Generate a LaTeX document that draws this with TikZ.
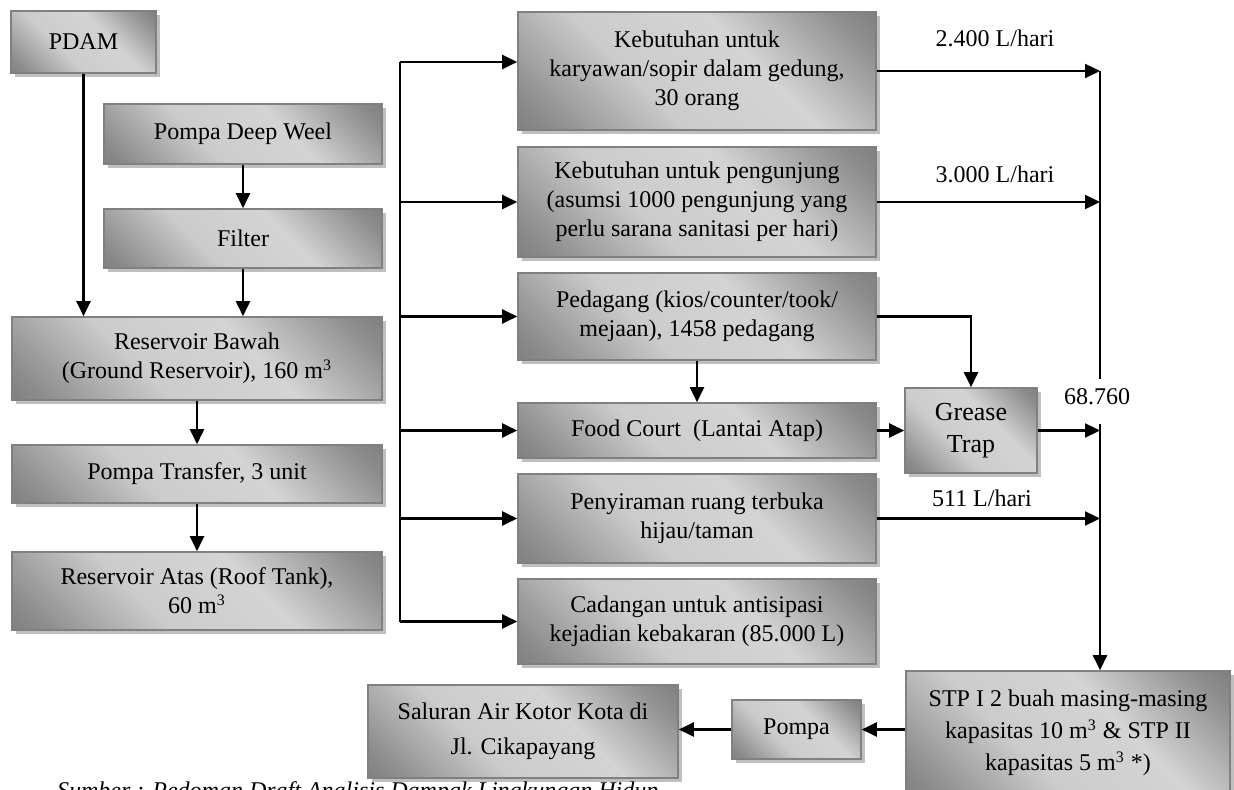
\documentclass[tikz,border=0pt]{standalone}
\usepackage{fontspec}
\setmainfont{Liberation Serif}
\usetikzlibrary{arrows.meta,shadows}
\pgfdeclareverticalshading{boxshade}{100bp}{color(0bp)=(black!62); color(20bp)=(black!45); color(40bp)=(black!20); color(60bp)=(black!17); color(80bp)=(black!45); color(100bp)=(black!62)}

\begin{document}
\begin{tikzpicture}[x=0.5pt,y=-0.5pt,
	font=\fontsize{12}{14.5}\selectfont,
	box/.style={draw=black!50,line width=0.8pt,shading=boxshade,shading angle=-45,drop shadow={shadow xshift=2pt,shadow yshift=-2pt,fill=black!25,opacity=1},align=center,inner sep=2pt},
	arr/.style={-{Triangle[length=7.5pt,width=7pt]},line width=1.1pt},
	wire/.style={line width=1.1pt}]
	\useasboundingbox (0,0) rectangle (1234,790);
	\node[box,minimum width=72.5pt,minimum height=31pt] (pdam) at (83.5,42) {PDAM};
	\node[box,minimum width=139pt,minimum height=30pt] (deep) at (243,134) {Pompa Deep Weel};
	\node[box,minimum width=139pt,minimum height=29.5pt] (filter) at (243,238.5) {Filter};
	\node[box,minimum width=185pt,minimum height=41.5pt] (resbawah) at (197,358.5) {Reservoir Bawah\\(Ground Reservoir), 160 m\textsuperscript{3}};
	\node[box,minimum width=185pt,minimum height=29pt] (transfer) at (197,474) {Pompa Transfer, 3 unit};
	\node[box,minimum width=185pt,minimum height=39pt] (resatas) at (197,591) {Reservoir Atas (Roof Tank),\\60 m\textsuperscript{3}};
	\node[box,minimum width=179pt,minimum height=59pt] (karyawan) at (697,71) {Kebutuhan untuk\\karyawan/sopir dalam gedung,\\30 orang};
	\node[box,minimum width=179pt,minimum height=55pt] (pengunjung) at (697,202) {Kebutuhan untuk pengunjung\\(asumsi 1000 pengunjung yang\\perlu sarana sanitasi per hari)};
	\node[box,minimum width=179pt,minimum height=43.5pt] (pedagang) at (697,316.5) {Pedagang (kios/counter/took/\\mejaan), 1458 pedagang};
	\node[box,minimum width=179pt,minimum height=27.5pt] (food) at (697,430.5) {Food Court\ \ (Lantai Atap)};
	\node[box,minimum width=179pt,minimum height=44.5pt] (siram) at (697,518.5) {Penyiraman ruang terbuka\\hijau/taman};
	\node[box,minimum width=179pt,minimum height=42.5pt] (cadangan) at (697,621.5) {Cadangan untuk antisipasi\\kejadian kebakaran (85.000 L)};
	\node[box,minimum width=66pt,minimum height=42.5pt,font=\fontsize{13}{16}\selectfont] (grease) at (971,430.5) {Grease\\Trap};
	\node[box,minimum width=162pt,minimum height=62pt,font=\fontsize{12}{16}\selectfont] (stp) at (1068,733) {STP I 2 buah masing-masing\\kapasitas 10 m\textsuperscript{3} \& STP II\\kapasitas 5 m\textsuperscript{3} *)};
	\node[box,minimum width=64.5pt,minimum height=29.5pt] (pompa) at (796.5,729.5) {Pompa};
	\node[box,minimum width=155pt,minimum height=46.5pt] (saluran) at (523,731.5) {Saluran Air Kotor Kota di\\[3pt]Jl. Cikapayang};
	\node (q2400) at (995,38) {2.400 L/hari};
	\node (q3000) at (995,174) {3.000 L/hari};
	\node (q511) at (982,498) {511 L/hari};
	\node (qtotal) at (1097,397) {68.760};
	\node[anchor=base west,font=\itshape\fontsize{12}{14.5}\selectfont] (sumber) at (50,798) {Sumber : Pedoman Draft Analisis Dampak Lingkungan Hidup};
	\draw[arr] (pdam.south) -- (pdam.south |- resbawah.north);
	\draw[arr] (deep) -- (filter);
	\draw[arr] (filter.south) -- (filter.south |- resbawah.north);
	\draw[arr] (resbawah) -- (transfer);
	\draw[arr] (transfer) -- (resatas);
	\coordinate (bt) at (400,62);
	\coordinate (bb) at (400,622);
	\draw[wire] (bt) -- (bb);
	\draw[arr] (bt) -- (bt -| karyawan.west);
	\foreach \n in {pengunjung,pedagang,food,siram,cadangan}
		\draw[arr] (bt |- \n.west) -- (\n.west);
	\draw[arr] (pedagang) -- (food);
	\draw[arr] (pedagang.east) -| (grease.north);
	\draw[arr] (food) -- (grease);
	\coordinate (rt) at (1100,71);
	\coordinate (rm) at (1100,379);
	\coordinate (rl) at (1100,424);
	\draw[wire] (rt) -- (rm);
	\draw[arr] (karyawan.east) -- (karyawan.east -| rt);
	\draw[arr] (pengunjung.east) -- (pengunjung.east -| rt);
	\draw[arr] (grease.east) -- (grease.east -| rt);
	\draw[arr] (siram.east) -- (siram.east -| rt);
	\draw[arr] (rl) -- (rl |- stp.north);
	\draw[arr] (stp.west |- pompa) -- (pompa.east);
	\draw[arr] (pompa.west) -- (pompa.west -| saluran.east);
\end{tikzpicture}
\end{document}
